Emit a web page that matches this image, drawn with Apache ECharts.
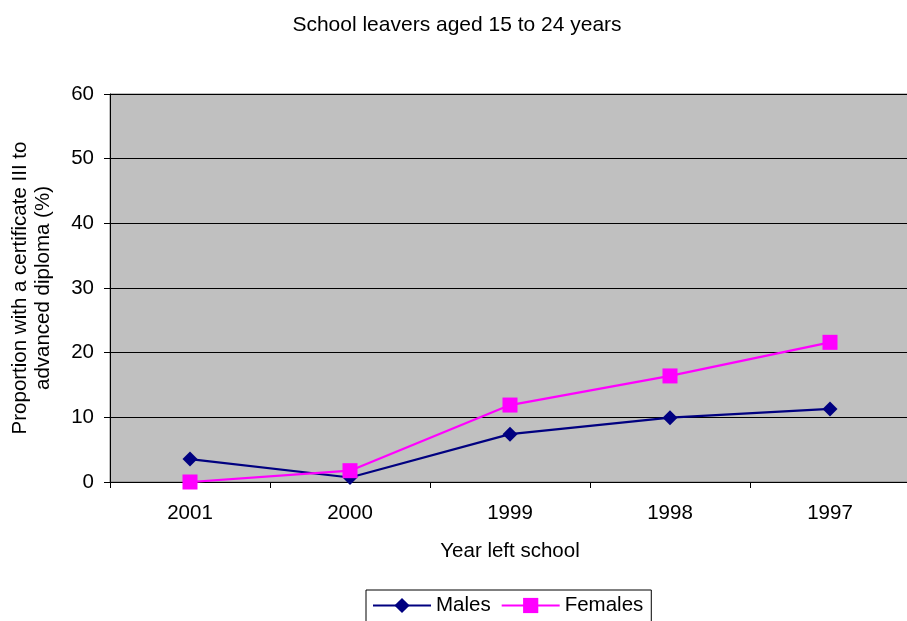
<!DOCTYPE html>
<html>
<head>
<meta charset="utf-8">
<script src="https://cdn.jsdelivr.net/npm/echarts@6/dist/echarts.min.js"></script>
<style>
  html, body { margin: 0; padding: 0; background: #fff; }
  #chart { width: 907px; height: 621px; }
</style>
</head>
<body>
<div id="chart"></div>
<script>
// Year left school (most recent first)
const years = ['2001', '2000', '1999', '1998', '1997'];
// Proportion with a certificate III to advanced diploma (%)
const males = [3.55, 0.7, 7.4, 9.95, 11.3];
const females = [0.0, 1.75, 11.9, 16.4, 21.6];
const yTicks = [0, 10, 20, 30, 40, 50, 60];

const font = 'Liberation Sans, Arial, sans-serif';
const fs = 20.5;
const chart = echarts.init(document.getElementById('chart'));

chart.setOption({
  animation: false,
  backgroundColor: '#ffffff',
  textStyle: { fontFamily: font },
  title: {
    text: 'School leavers aged 15 to 24 years',
    left: 452, top: 10, textAlign: 'center',
    textStyle: { fontFamily: font, fontSize: 21, fontWeight: 'normal', color: '#000' }
  },
  grid: {
    left: 110, right: -3, top: 94, bottom: 139,
    outerBoundsMode: 'none', containLabel: false,
    show: true, backgroundColor: '#c0c0c0', borderColor: '#808080', borderWidth: 1
  },
  legend: {
    bottom: -2, left: 366,
    itemWidth: 58, itemHeight: 19, itemGap: 10,
    padding: [5, 8, 7, 6],
    borderColor: '#000', borderWidth: 1, backgroundColor: '#fff',
    textStyle: { fontFamily: font, fontSize: fs, color: '#000' },
    data: ['Males', 'Females']
  },
  xAxis: {
    type: 'category', data: years, boundaryGap: true,
    name: 'Year left school', nameLocation: 'middle', nameGap: 59,
    nameTextStyle: { fontFamily: font, fontSize: fs, color: '#000' },
    axisLine: { lineStyle: { color: '#000', width: 1 } },
    axisTick: { show: true, length: 6, lineStyle: { color: '#000' } },
    axisLabel: { fontFamily: font, fontSize: fs, color: '#000', margin: 21 }
  },
  yAxis: {
    type: 'value', min: yTicks[0], max: yTicks[yTicks.length - 1], interval: 10,
    name: 'Proportion with a certificate III to\nadvanced diploma (%)',
    nameLocation: 'middle', nameGap: 55, nameRotate: 90,
    nameTextStyle: { fontFamily: font, fontSize: fs, color: '#000', lineHeight: 23 },
    axisLine: { show: true, lineStyle: { color: '#000', width: 1 } },
    axisTick: { show: true, length: 6, lineStyle: { color: '#000' } },
    axisLabel: { fontFamily: font, fontSize: fs, color: '#000', margin: 16 },
    splitLine: { show: true, lineStyle: { color: '#000', width: 1 } }
  },
  series: [
    {
      name: 'Males', type: 'line', data: males,
      symbol: 'diamond', symbolSize: 15,
      lineStyle: { color: '#000080', width: 2.2 },
      itemStyle: { color: '#000080' }
    },
    {
      name: 'Females', type: 'line', data: females,
      symbol: 'rect', symbolSize: 15,
      lineStyle: { color: '#ff00ff', width: 2.2 },
      itemStyle: { color: '#ff00ff' }
    }
  ]
});
</script>
</body>
</html>
